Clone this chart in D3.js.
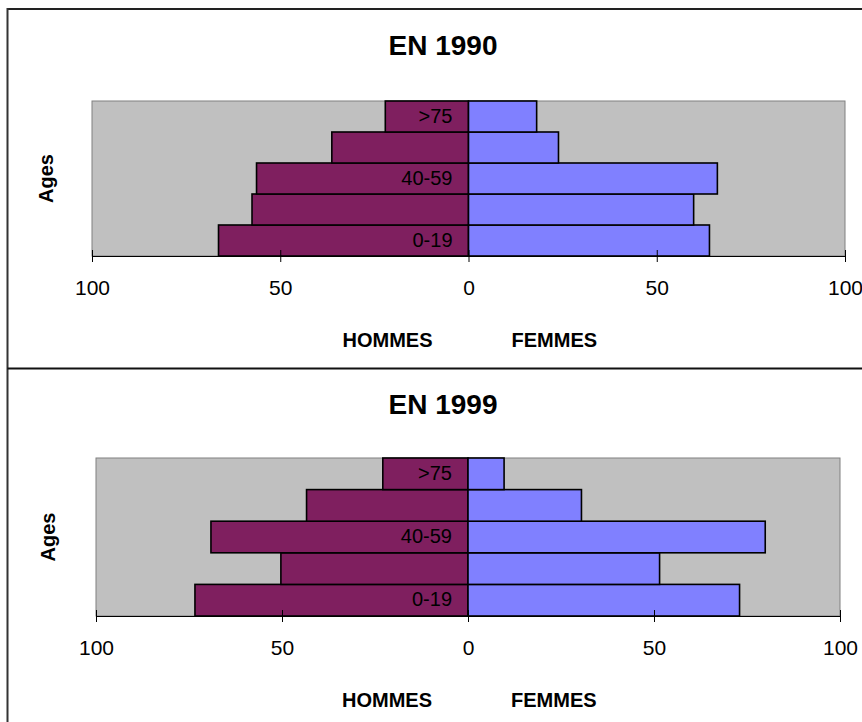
<!DOCTYPE html>
<html>
<head>
<meta charset="utf-8">
<script src="https://cdn.jsdelivr.net/npm/d3@7/dist/d3.min.js"></script>
<style>
  html, body { margin: 0; padding: 0; background: #fff; }
  svg { display: block; font-family: "Liberation Sans", Arial, sans-serif; }
</style>
</head>
<body>
<svg id="chart" width="862" height="722"></svg>
<script>
// ---- data (bottom to top) ----
const ageLabels = ["0-19", "", "40-59", "", ">75"];
const hommes1990 = [66.4, 57.5, 56.3, 36.3, 22.1];
const femmes1990 = [64.0, 59.8, 66.1, 23.9, 18.1];
const hommes1999 = [73.4, 50.3, 69.1, 43.4, 22.9];
const femmes1999 = [73.0, 51.5, 79.9, 30.5, 9.7];
const tickValues = [-100, -50, 0, 50, 100];
const titles = ["EN 1990", "EN 1999"];

const svg = d3.select("#chart");

// frame
svg.append("line").attr("x1", 7.5).attr("x2", 862).attr("y1", 9).attr("y2", 9)
  .attr("stroke", "#222").attr("stroke-width", 2);
svg.append("line").attr("x1", 7.5).attr("x2", 7.5).attr("y1", 8).attr("y2", 722)
  .attr("stroke", "#333").attr("stroke-width", 2);
svg.append("line").attr("x1", 7.5).attr("x2", 862).attr("y1", 368.5).attr("y2", 368.5)
  .attr("stroke", "#111").attr("stroke-width", 2);

const panels = [
  { title: titles[0], h: hommes1990, f: femmes1990, x0: 92, x1: 845, y0: 101, y1: 256, top: 9, agesX: 46 },
  { title: titles[1], h: hommes1999, f: femmes1999, x0: 96, x1: 840, y0: 458, y1: 616, top: 368, agesX: 48 }
];

panels.forEach(p => {
  const g = svg.append("g");
  const x = d3.scaleLinear().domain([-100, 100]).range([p.x0, p.x1]);
  const idx = d3.range(ageLabels.length);
  const y = d3.scaleBand().domain(idx.slice().reverse()).range([p.y0, p.y1]).padding(0);

  // title
  g.append("text").attr("x", 443).attr("y", p.top + 46)
    .attr("text-anchor", "middle").attr("font-weight", "bold").attr("font-size", 28)
    .text(p.title);

  // plot area
  g.append("rect").attr("x", p.x0).attr("y", p.y0)
    .attr("width", p.x1 - p.x0).attr("height", p.y1 - p.y0)
    .attr("fill", "#C0C0C0").attr("stroke", "#808080").attr("stroke-width", 1);

  // bars
  g.selectAll(".h").data(p.h).join("rect")
    .attr("x", d => x(-d)).attr("y", (d, i) => y(i))
    .attr("width", d => x(0) - x(-d)).attr("height", y.bandwidth())
    .attr("fill", "#7F1F5F").attr("stroke", "#000").attr("stroke-width", 1.6);
  g.selectAll(".f").data(p.f).join("rect")
    .attr("x", x(0)).attr("y", (d, i) => y(i))
    .attr("width", d => x(d) - x(0)).attr("height", y.bandwidth())
    .attr("fill", "#8080FF").attr("stroke", "#000").attr("stroke-width", 1.6);

  // category labels
  g.selectAll(".cat").data(idx).join("text")
    .attr("x", x(0) - 16).attr("y", i => y(i) + y.bandwidth() / 2 + 6)
    .attr("text-anchor", "end").attr("font-size", 20).attr("fill", "#000")
    .text(i => ageLabels[i]);

  // x axis
  const ax = g.append("g").attr("transform", `translate(0,${p.y1})`)
    .call(d3.axisBottom(x).tickValues(tickValues).tickSize(6).tickSizeOuter(0)
      .tickFormat(d => Math.abs(d)));
  ax.select(".domain").attr("stroke", "#000").attr("stroke-width", 1.2);
  ax.selectAll(".tick line").attr("y1", -6).attr("y2", 6).attr("stroke", "#000");
  ax.selectAll(".tick text").attr("font-size", 21).attr("font-family", "Liberation Sans, Arial, sans-serif")
    .attr("fill", "#000").attr("y", 0).attr("dy", 39);

  // axis titles
  g.append("text").attr("x", x(0) - 36).attr("y", p.y1 + 91)
    .attr("text-anchor", "end").attr("font-weight", "bold").attr("font-size", 20).text("HOMMES");
  g.append("text").attr("x", x(0) + 43).attr("y", p.y1 + 91)
    .attr("text-anchor", "start").attr("font-weight", "bold").attr("font-size", 20).text("FEMMES");

  // Ages
  const cy = (p.y0 + p.y1) / 2;
  g.append("text").attr("transform", `translate(${p.agesX + 7},${cy}) rotate(-90)`)
    .attr("text-anchor", "middle").attr("font-weight", "bold").attr("font-size", 20).text("Ages");
});
</script>
</body>
</html>
